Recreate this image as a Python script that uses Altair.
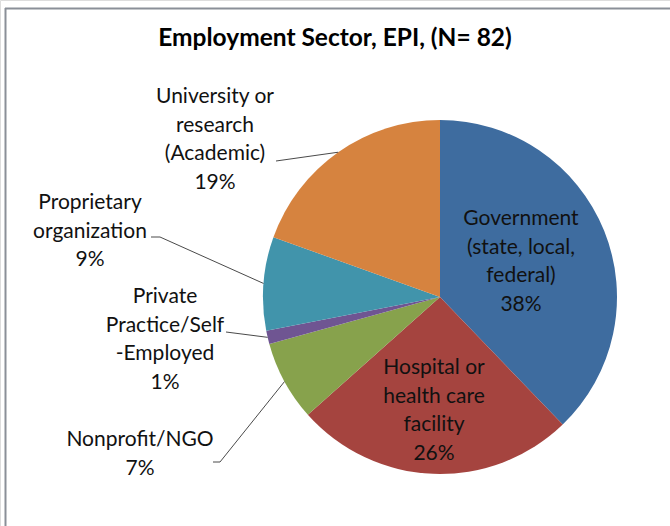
import math
import altair as alt
import pandas as pd

# ---------------- data ----------------
sectors = [
    "Government (state, local, federal)",
    "Hospital or health care facility",
    "Nonprofit/NGO",
    "Private Practice/Self-Employed",
    "Proprietary organization",
    "University or research (Academic)",
]
counts = [31, 21, 6, 1, 7, 16]
pct_labels = ["38%", "26%", "7%", "1%", "9%", "19%"]
label_lines = [
    ["Government", "(state, local,", "federal)"],
    ["Hospital or", "health care", "facility"],
    ["Nonprofit/NGO"],
    ["Private", "Practice/Self", "-Employed"],
    ["Proprietary", "organization"],
    ["University or", "research", "(Academic)"],
]
title_text = "Employment Sector, EPI, (N= 82)"

# ---------------- styles / layout ----------------
colors = ["#3e6c9f", "#a5443f", "#87a24c", "#6f5592", "#4194ab", "#d6833f"]
W, H = 670, 526
CX, CY, R = 440, 297, 177
FONT = "Lato"
FS = 21
LH = 28.6
# label block: (x centre, first line centre y)
label_pos = [(521, 219), (434, 368), (140, 440), (165, 297), (90, 203), (215, 97)]
# leader line start points (outside labels only)
leader_start = [None, None, [(213, 462), (220, 462)], [(226, 332)],
                [(151, 237), (160, 237)], [(276, 161)]]

# ---------------- tables ----------------
pie_df = pd.DataFrame({"sector": sectors, "count": counts, "idx": range(len(sectors))})

rows = []
for i, (lines, pct) in enumerate(zip(label_lines, pct_labels)):
    x0, y0 = label_pos[i]
    for j, t in enumerate(lines + [pct]):
        rows.append({"text": t, "x": x0, "y": y0 + j * LH})
text_df = pd.DataFrame(rows)

N = sum(counts)
leader_rows = []
cum = 0
for i, c in enumerate(counts):
    mid = (cum + c / 2) / N * 2 * math.pi
    cum += c
    if leader_start[i] is None:
        continue
    pts = list(leader_start[i]) + [(CX + R * math.sin(mid), CY - R * math.cos(mid))]
    for k, (px, py) in enumerate(pts):
        leader_rows.append({"g": sectors[i], "k": k, "x": px, "y": py})
leader_df = pd.DataFrame(leader_rows)

# ---------------- chart ----------------
frame_top = alt.Chart(pd.DataFrame({"a": [0]})).mark_rule(
    color="#8a8f98", strokeWidth=2
).encode(x=alt.value(5), x2=alt.value(W), y=alt.value(8.5), y2=alt.value(8.5))
frame_left = alt.Chart(pd.DataFrame({"a": [0]})).mark_rule(
    color="#8a8f98", strokeWidth=2
).encode(x=alt.value(5.5), x2=alt.value(5.5), y=alt.value(8), y2=alt.value(H))

pie = alt.Chart(pie_df).mark_arc(outerRadius=R).encode(
    theta=alt.Theta("count:Q", stack=True),
    order=alt.Order("idx:Q"),
    color=alt.Color("sector:N", scale=alt.Scale(domain=sectors, range=colors), legend=None),
    x=alt.value(CX),
    y=alt.value(CY),
)

leaders = alt.Chart(leader_df).mark_line(color="#4a4a4a", strokeWidth=1).encode(
    x=alt.X("x:Q", scale=None),
    y=alt.Y("y:Q", scale=None),
    detail="g:N",
    order="k:Q",
)

labels = alt.Chart(text_df).mark_text(
    font=FONT, fontSize=FS, color="#111111", align="center", baseline="middle"
).encode(
    x=alt.X("x:Q", scale=None),
    y=alt.Y("y:Q", scale=None),
    text="text:N",
)

title = alt.Chart(pd.DataFrame({"t": [title_text]})).mark_text(
    font=FONT, fontSize=24.5, fontWeight="bold", color="#000000",
    align="center", baseline="middle"
).encode(x=alt.value(335), y=alt.value(39), text="t:N")

chart = alt.layer(frame_top, frame_left, pie, leaders, labels, title).properties(
    width=W, height=H, padding=0, autosize=alt.AutoSizeParams(type="none")
).configure_view(stroke=None).configure(background="white")

chart.save("out.html", embed_options={"renderer": "svg", "actions": False})
